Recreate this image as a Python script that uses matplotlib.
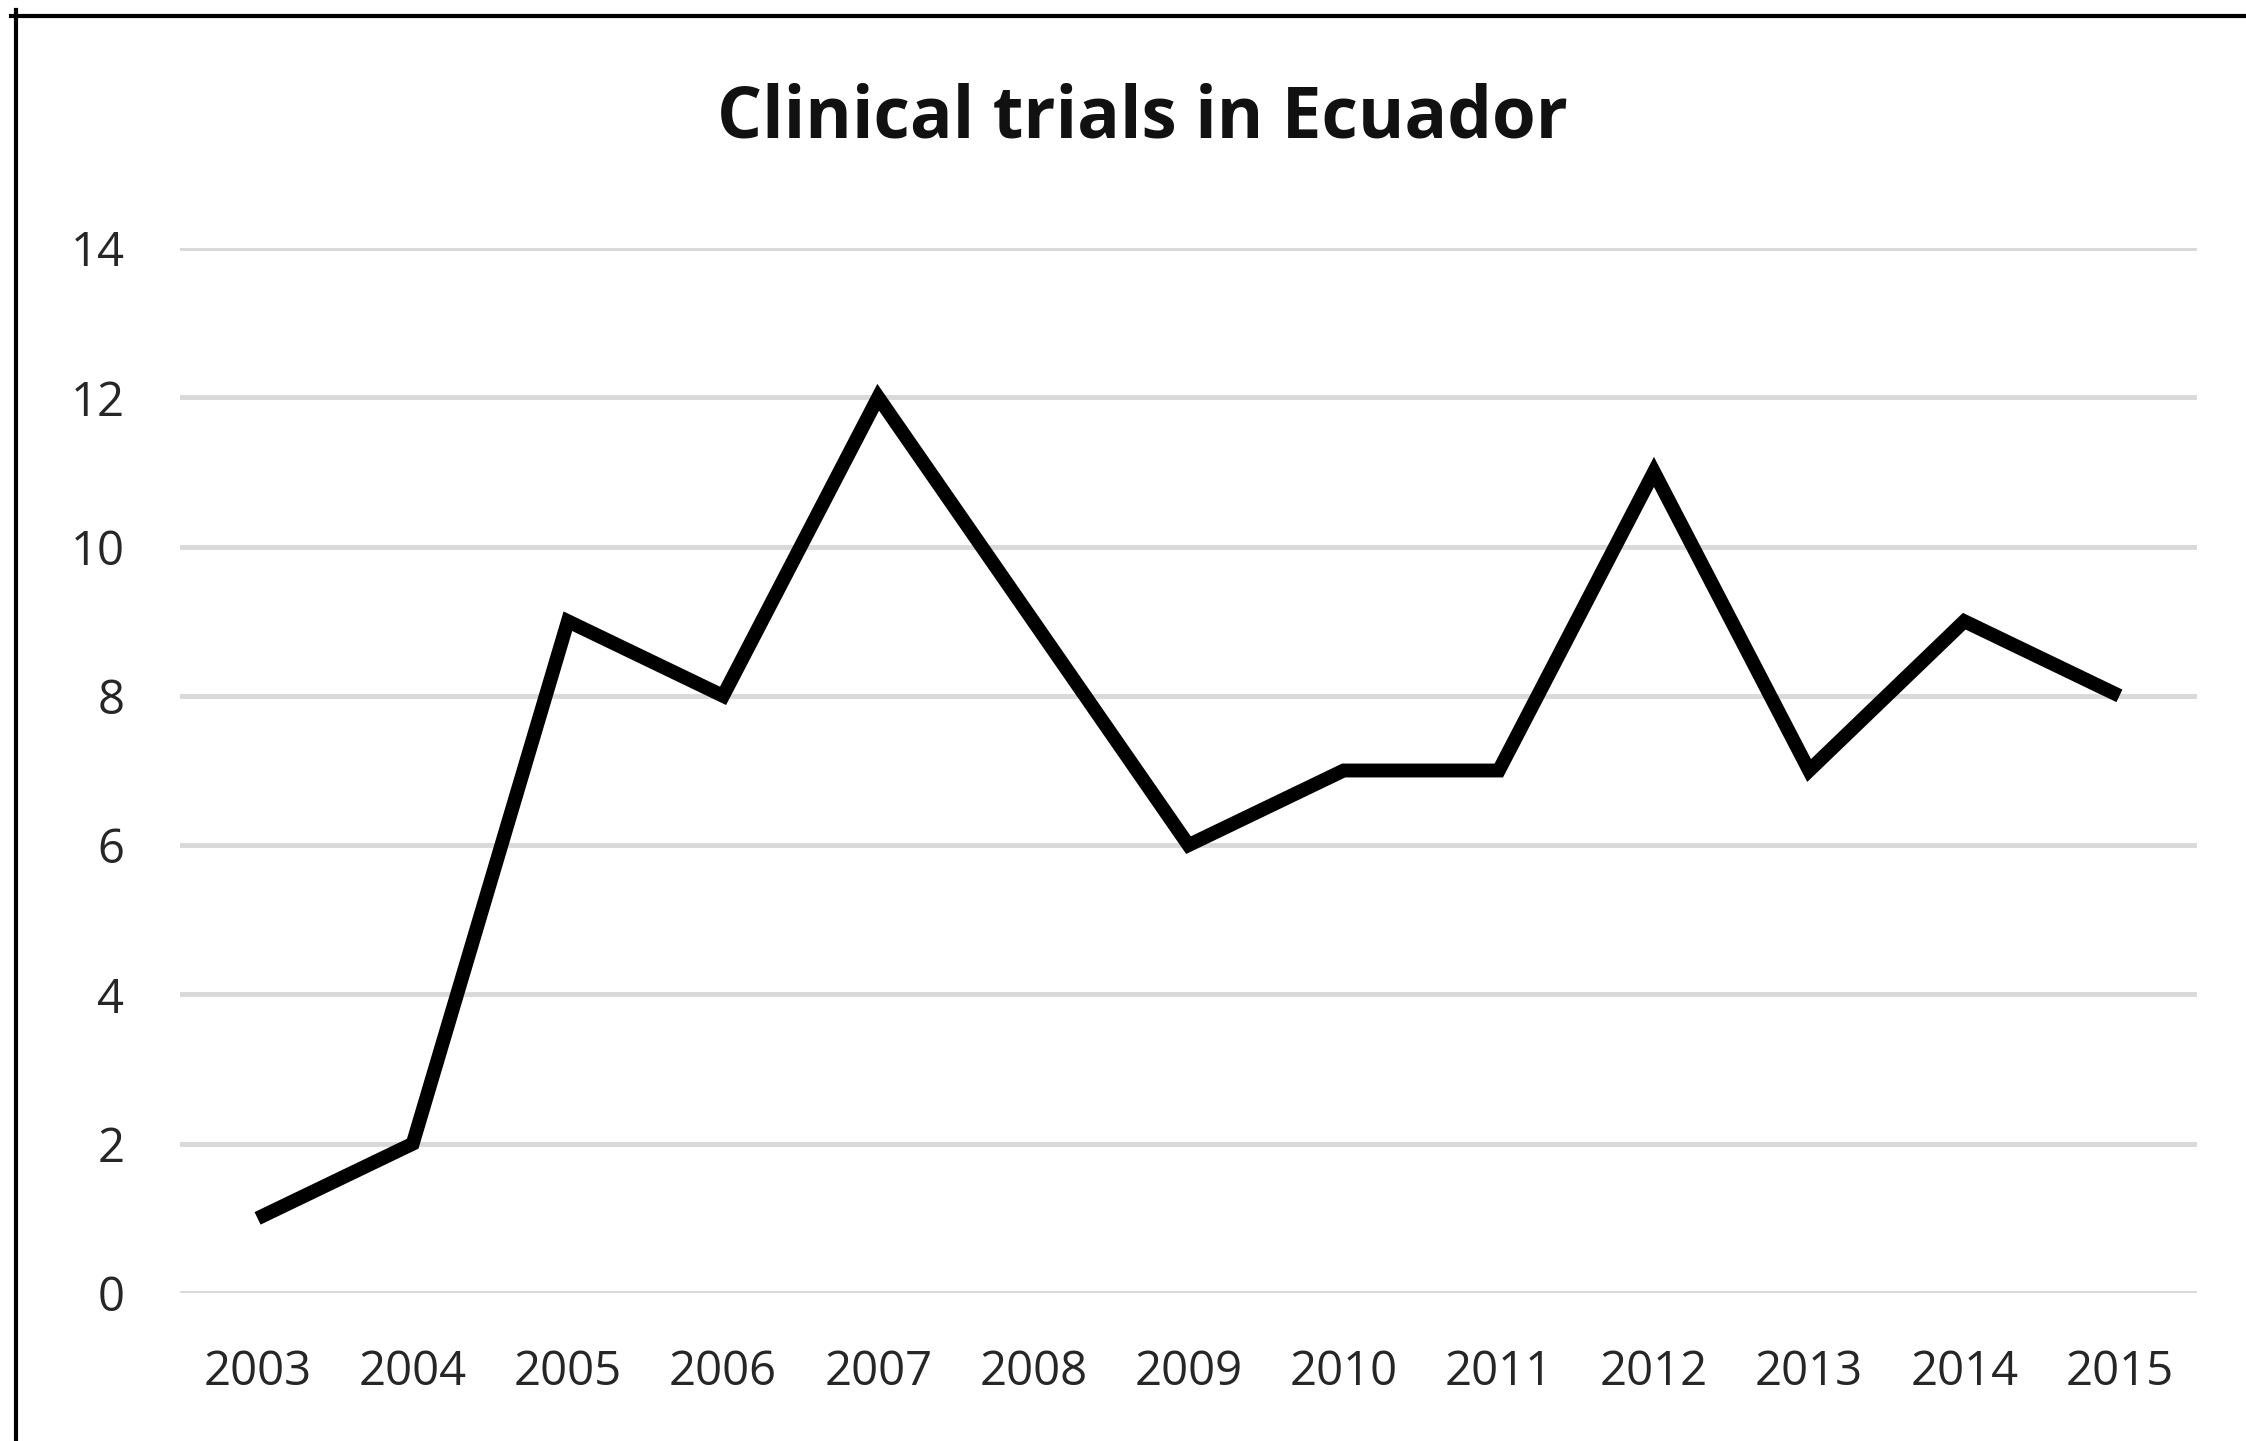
import matplotlib
matplotlib.use("Agg")
import matplotlib.pyplot as plt
from matplotlib.lines import Line2D

years = ["2003", "2004", "2005", "2006", "2007", "2008", "2009",
         "2010", "2011", "2012", "2013", "2014", "2015"]
trials = [1, 2, 9, 8, 12, 9, 6, 7, 7, 11, 7, 9, 8]
y_ticks = [0, 2, 4, 6, 8, 10, 12, 14]

plt.rcParams['font.family'] = ['Open Sans', 'DejaVu Sans']

W, H = 2246, 1441
fig = plt.figure(figsize=(W / 100, H / 100), dpi=100)
ax = fig.add_axes([180 / W, 1 - 1293 / H, (2197 - 180) / W, (1293 - 248) / H])

x = list(range(len(years)))
ax.plot(x, trials, color="black", linewidth=10, solid_joinstyle="miter",
        solid_capstyle="butt", zorder=3)

ax.set_xlim(-0.5, len(years) - 0.5)
ax.set_ylim(0, 14)
ax.set_xticks(x)
ax.set_xticklabels(years)
ax.set_yticks(y_ticks)
ax.grid(axis="y", color="#d9d9d9", linewidth=3.5)
ax.set_axisbelow(True)
for s in ax.spines.values():
    s.set_visible(False)
ax.tick_params(axis="both", length=0, labelsize=34, labelcolor="#262626")
ax.tick_params(axis="x", pad=40)
ax.tick_params(axis="y", pad=40)

fig.text(1142 / W, 1 - 119 / H, "Clinical trials in Ecuador", ha="center",
         va="center", fontsize=51, fontweight="bold", color="#111111")

# frame lines at top and left of the picture
fig.add_artist(Line2D([11 / W, 1], [1 - 16 / H, 1 - 16 / H],
                      color="black", linewidth=3, transform=fig.transFigure))
fig.add_artist(Line2D([16 / W, 16 / W], [0, 1 - 10 / H],
                      color="black", linewidth=3, transform=fig.transFigure))

fig.savefig("out.png", dpi=100)
